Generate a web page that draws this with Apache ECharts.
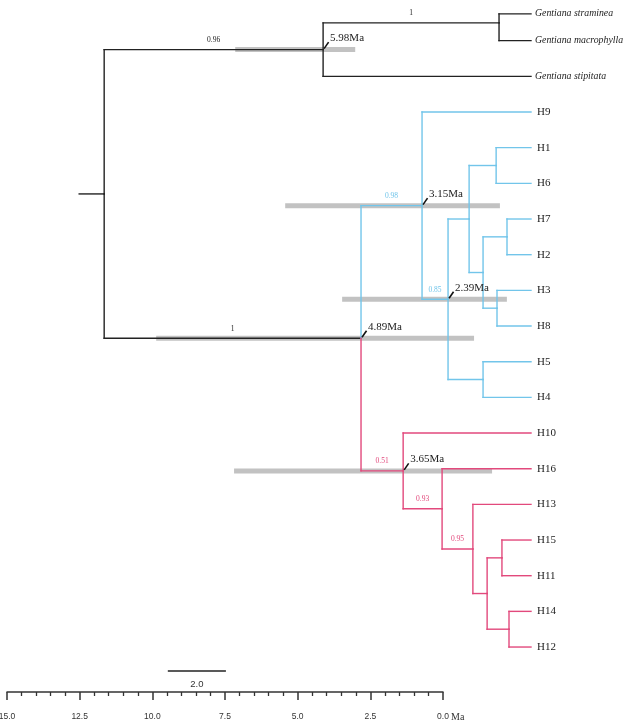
<!DOCTYPE html>
<html><head><meta charset="utf-8">
<script src="https://cdn.jsdelivr.net/npm/echarts@6.0.0/dist/echarts.min.js"></script>
<style>html,body{margin:0;padding:0;background:#fff}#c{width:627px;height:721px}</style>
</head><body><div id="c"></div>
<script>
// ---------- DATA ----------
// leaves (row = vertical slot, tree height = 0)
const leafNames   = ['Gentiana straminea','Gentiana macrophylla','Gentiana stipitata','H9','H1','H6','H7','H2','H3','H8','H5','H4','H10','H16','H13','H15','H11','H14','H12'];
const leafRows    = [-2.75,-2,-1,0,1,2,3,4,5,6,7,8,9,10,11,12,13,14,15];
const leafParents = ['nGsm','nGsm','nG','nB','nH1H6','nH1H6','nH7H2','nH7H2','nH3H8','nH3H8','nH5H4','nH5H4','nP','nQ','nR','nH15H11','nH15H11','nH14H12','nH14H12'];
// internal nodes (heights in tree-scale units, tips = 0)
const innerNames   = ['root','nG','nGsm','nA','nB','nC','nD','nH1H6','nE','nH7H2','nH3H8','nH5H4','nP','nQ','nR','nS','nH15H11','nH14H12'];
const innerParents = [null,'root','nG','root','nA','nB','nC','nD','nD','nE','nE','nC','nA','nP','nQ','nR','nS','nS'];
const innerHeights = [14.69,7.155,1.10,5.85,3.75,2.855,2.13,1.20,1.65,0.826,1.17,1.65,4.40,3.06,2.0,1.51,1.0,0.757];
const innerRowFixed = {nGsm:-2.5};
const rootStubHeight = 15.55;
// posterior support values
const supportNodes  = ['nG','nGsm','nA','nB','nC','nP','nQ','nR'];
const supportValues = ['0.96','1','1','0.98','0.85','0.51','0.93','0.95'];
// divergence times with 95% HPD bars (tree-scale units)
const ageNodes  = ['nG','nB','nC','nA','nP'];
const ageLabels = ['5.98Ma','3.15Ma','2.39Ma','4.89Ma','3.65Ma'];
const hpdLow    = [6.05,1.07,0.83,1.96,1.34];
const hpdHigh   = [10.18,8.46,6.50,12.90,10.22];
// time axis
const timeMin = 0, timeMax = 15, timeInterval = 2.5;
const timeUnit = 'Ma';
// scale bar
const scaleBarLength = 2.0, scaleBarLabel = '2.0';

// ---------- BUILD ----------
const BLUE = '#72c5ea', PINK = '#e2497c', BLACK = '#222222';
const cladeColour = {nB: BLUE, nP: PINK};
const nodes = {};
innerNames.forEach((n,i)=>{nodes[n]={name:n,parent:innerParents[i],h:innerHeights[i],children:[],leaf:false};});
leafNames.forEach((n,i)=>{nodes[n]={name:n,parent:leafParents[i],h:0,row:leafRows[i],children:[],leaf:true};});
Object.values(nodes).forEach(nd=>{ if(nd.parent) nodes[nd.parent].children.push(nd.name); });
function rowOf(n){const nd=nodes[n]; if(nd.row!==undefined) return nd.row;
  if(innerRowFixed[n]!==undefined){nd.row=innerRowFixed[n];return nd.row;}
  const rs=nd.children.map(rowOf); nd.row=(Math.min(...rs)+Math.max(...rs))/2; return nd.row;}
function colourOf(n){let c=n; while(c){ if(cladeColour[c]) return cladeColour[c]; c=nodes[c].parent;} return BLACK;}
rowOf('root');

const segs=[]; // [x1,y1,x2,y2,colour]
Object.values(nodes).forEach(nd=>{
  const col=colourOf(nd.name);
  if(nd.parent){ segs.push([nodes[nd.parent].h, nd.row, nd.h, nd.row, col]); }
  nd.children.forEach(c=>{ segs.push([nd.h, nd.row, nd.h, nodes[c].row, colourOf(c)]); });
});
segs.push([rootStubHeight, nodes.root.row, nodes.root.h, nodes.root.row, BLACK]);

const bars = ageNodes.map((n,i)=>[hpdHigh[i], nodes[n].row, hpdLow[i], nodes[n].row]);
const ages = ageNodes.map((n,i)=>[nodes[n].h, nodes[n].row, ageLabels[i]]);
const supports = supportNodes.map((n,i)=>[(nodes[n].h+nodes[nodes[n].parent].h)/2, nodes[n].row, supportValues[i], colourOf(n)]);
const tips = leafNames.map((n,i)=>[0, leafRows[i], n]);
const scaleRow = 15.67, scaleStart = 12.5;
const scaleBar = [[scaleStart, scaleRow, scaleStart-scaleBarLength, scaleRow, scaleBarLabel]];

const SERIF = '"Liberation Serif","Times New Roman",serif';
const SANS = '"Liberation Sans",Arial,sans-serif';

const chart = echarts.init(document.getElementById('c'));
chart.setOption({
  animation:false,
  backgroundColor:'#fff',
  grid:[
    {left:8, right:96, top:5, bottom:38.3, outerBoundsMode:'none', containLabel:false},
    {left:7, right:184, top:600, bottom:29, outerBoundsMode:'none', containLabel:false}
  ],
  xAxis:[
    {gridIndex:0, type:'value', min:0, max:18, inverse:true, show:false},
    {gridIndex:1, type:'value', min:timeMin, max:timeMax, interval:timeInterval, inverse:true,
     axisLine:{show:true, lineStyle:{color:'#333', width:1.5}},
     axisTick:{show:true, length:8, lineStyle:{color:'#333', width:1.5}},
     minorTick:{show:true, splitNumber:5, length:4, lineStyle:{color:'#333', width:1.3}},
     splitLine:{show:false},
     axisLabel:{margin:20, fontSize:8.5, fontFamily:SANS, color:'#333', formatter:v=>v.toFixed(1)}}
  ],
  yAxis:[
    {gridIndex:0, type:'value', min:-3, max:16, inverse:true, show:false},
    {gridIndex:1, type:'value', show:false}
  ],
  graphic:[{type:'text', x:451, y:717, style:{text:timeUnit, font:'10px '+SERIF, fill:'#333', verticalAlign:'middle', textVerticalAlign:'middle'}}],
  series:[
    {type:'custom', xAxisIndex:0, yAxisIndex:0, z:1, data:bars, encode:{x:[0,2],y:[1,3]},
     renderItem:(p,api)=>{const a=api.coord([api.value(0),api.value(1)]), b=api.coord([api.value(2),api.value(3)]);
       return {type:'line', shape:{x1:a[0],y1:a[1],x2:b[0],y2:b[1]}, style:{stroke:'#c2c2c2', lineWidth:5, lineCap:'butt'}};}},
    {type:'custom', xAxisIndex:0, yAxisIndex:0, z:2, data:segs.map(s=>s.slice(0,4)), encode:{x:[0,2],y:[1,3]},
     renderItem:(p,api)=>{const a=api.coord([api.value(0),api.value(1)]), b=api.coord([api.value(2),api.value(3)]);
       return {type:'line', shape:{x1:a[0],y1:a[1],x2:b[0],y2:b[1]}, style:{stroke:segs[p.dataIndex][4], lineWidth:1.4, lineCap:'square'}};}},
    {type:'custom', xAxisIndex:0, yAxisIndex:0, z:3, data:ages, encode:{x:0,y:1},
     renderItem:(p,api)=>{const a=api.coord([api.value(0),api.value(1)]);
       return {type:'group', children:[
         {type:'line', shape:{x1:a[0]+1,y1:a[1]-1,x2:a[0]+5.5,y2:a[1]-7.5}, style:{stroke:'#111', lineWidth:1.6}},
         {type:'text', x:a[0]+7, y:a[1]-11.5, style:{text:ages[p.dataIndex][2], font:'11px '+SERIF, fill:'#222', align:'left', verticalAlign:'middle', textAlign:'left', textVerticalAlign:'middle'}}]};}},
    {type:'custom', xAxisIndex:0, yAxisIndex:0, z:3, data:supports, encode:{x:0,y:1},
     renderItem:(p,api)=>{const a=api.coord([api.value(0),api.value(1)]);
       return {type:'text', x:a[0], y:a[1]-9.5, style:{text:supports[p.dataIndex][2], font:'7.5px '+SERIF, fill:supports[p.dataIndex][3], align:'center', verticalAlign:'middle', textAlign:'center', textVerticalAlign:'middle'}};}},
    {type:'custom', xAxisIndex:0, yAxisIndex:0, z:3, data:tips, encode:{x:0,y:1},
     renderItem:(p,api)=>{const a=api.coord([api.value(0),api.value(1)]); const nm=tips[p.dataIndex][2]; const it=nm.indexOf('Gentiana')===0;
       return {type:'text', x:a[0]+(it?4:6), y:a[1], style:{text:nm, font:(it?'italic 9.8px ':'11px ')+SERIF, fill:'#222', align:'left', verticalAlign:'middle', textAlign:'left', textVerticalAlign:'middle'}};}},
    {type:'custom', xAxisIndex:0, yAxisIndex:0, z:3, data:scaleBar.map(s=>s.slice(0,4)), encode:{x:[0,2],y:[1,3]},
     renderItem:(p,api)=>{const a=api.coord([api.value(0),api.value(1)]), b=api.coord([api.value(2),api.value(3)]);
       return {type:'group', children:[
         {type:'line', shape:{x1:a[0],y1:a[1],x2:b[0],y2:b[1]}, style:{stroke:'#222', lineWidth:1.5}},
         {type:'text', x:(a[0]+b[0])/2, y:a[1]+13, style:{text:scaleBar[p.dataIndex][4], font:'9.5px '+SANS, fill:'#333', align:'center', verticalAlign:'middle', textAlign:'center', textVerticalAlign:'middle'}}]};}}
  ]
});
</script></body></html>
